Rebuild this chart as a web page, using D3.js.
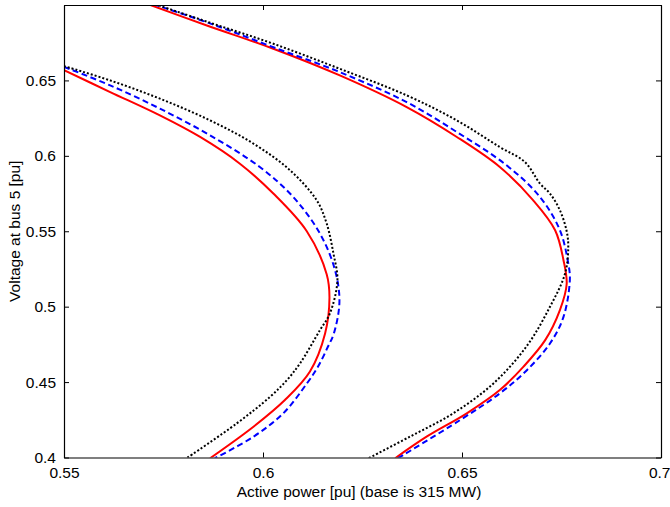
<!DOCTYPE html>
<html>
<head>
<meta charset="utf-8">
<script src="https://cdn.jsdelivr.net/npm/d3@7"></script>
<style>
  html, body { margin: 0; padding: 0; background: #fff; }
  svg { display: block; }
  text { font-family: Arial, "Liberation Sans", Helvetica, sans-serif; fill: #000; }
</style>
</head>
<body>
<svg id="chart" width="670" height="507"></svg>
<script>
// ---- data (active power P [pu], voltage V [pu]) ----
const leftRed = [
  [0.5500, 0.6568], [0.5616, 0.6423], [0.5741, 0.6268], [0.5842, 0.6125],
  [0.5942, 0.5948], [0.6026, 0.5750], [0.6110, 0.5500], [0.6160, 0.5215],
  [0.6167, 0.5060], [0.6156, 0.4822], [0.6118, 0.4570], [0.6055, 0.4381],
  [0.5976, 0.4204], [0.5867, 0.3995]
];
const leftBlue = [
  [0.5500, 0.6590], [0.5616, 0.6467], [0.5741, 0.6313], [0.5867, 0.6136],
  [0.5992, 0.5926], [0.6076, 0.5727], [0.6143, 0.5485], [0.6181, 0.5242],
  [0.6192, 0.5030], [0.6178, 0.4822], [0.6163, 0.4734], [0.6138, 0.4601],
  [0.6110, 0.4490], [0.6051, 0.4293], [0.5976, 0.4138], [0.5879, 0.3995]
];
const leftBlack = [
  [0.5500, 0.6595], [0.5616, 0.6500], [0.5741, 0.6379], [0.5867, 0.6235],
  [0.5976, 0.6081], [0.6068, 0.5904], [0.6135, 0.5705], [0.6160, 0.5551],
  [0.6177, 0.5352], [0.6187, 0.5175], [0.6168, 0.4955], [0.6143, 0.4844],
  [0.6093, 0.4624], [0.6060, 0.4513], [0.6018, 0.4403], [0.5934, 0.4226],
  [0.5808, 0.3995]
];
const rightRed = [
  [0.5712, 0.7005], [0.5859, 0.6864], [0.6026, 0.6710], [0.6193, 0.6533],
  [0.6361, 0.6323], [0.6487, 0.6125], [0.6595, 0.5926], [0.6679, 0.5705],
  [0.6734, 0.5507], [0.6755, 0.5308], [0.6763, 0.5150], [0.6746, 0.4977],
  [0.6709, 0.4778], [0.6654, 0.4601], [0.6595, 0.4447], [0.6512, 0.4293],
  [0.6411, 0.4138], [0.6332, 0.3995]
];
const rightBlue = [
  [0.5725, 0.7005], [0.5870, 0.6875], [0.6026, 0.6720], [0.6193, 0.6555],
  [0.6361, 0.6356], [0.6487, 0.6158], [0.6612, 0.5937], [0.6696, 0.5727],
  [0.6746, 0.5507], [0.6767, 0.5286], [0.6771, 0.5180], [0.6755, 0.4932],
  [0.6721, 0.4756], [0.6663, 0.4579], [0.6595, 0.4425], [0.6495, 0.4248],
  [0.6336, 0.3990]
];
const rightBlack = [
  [0.5729, 0.7005], [0.5870, 0.6880], [0.6026, 0.6743], [0.6193, 0.6577],
  [0.6361, 0.6401], [0.6487, 0.6235], [0.6595, 0.6058], [0.6658, 0.5959],
  [0.6696, 0.5816], [0.6721, 0.5750], [0.6746, 0.5639], [0.6763, 0.5500],
  [0.6767, 0.5396], [0.6759, 0.5220], [0.6721, 0.4999], [0.6663, 0.4740],
  [0.6579, 0.4491], [0.6478, 0.4293], [0.6369, 0.4138], [0.6265, 0.3995]
];

const xTicks = [0.55, 0.6, 0.65, 0.7];
const xTickLabels = ["0.55", "0.6", "0.65", "0.7"];
const yTicks = [0.4, 0.45, 0.5, 0.55, 0.6, 0.65];
const yTickLabels = ["0.4", "0.45", "0.5", "0.55", "0.6", "0.65"];
const xLabel = "Active power [pu] (base is 315 MW)";
const yLabel = "Voltage at bus 5 [pu]";

// ---- layout ----
const L = 64, R = 661, T = 5, B = 457.5;
const FS = 15.5;
const svg = d3.select("#chart");
const x = d3.scaleLinear().domain([0.55, 0.7]).range([L, R]);
const y = d3.scaleLinear().domain([0.4, 0.7]).range([B, T]);

svg.append("defs").append("clipPath").attr("id", "clip")
  .append("rect").attr("x", L).attr("y", T).attr("width", R - L).attr("height", B - T);

const line = d3.line().curve(d3.curveCatmullRom.alpha(0.5))
  .x(d => x(d[0])).y(d => y(d[1]));
const g = svg.append("g").attr("clip-path", "url(#clip)");

const series = [
  { data: leftRed, color: "#ff0000", dash: null },
  { data: rightRed, color: "#ff0000", dash: null },
  { data: leftBlue, color: "#0000ff", dash: "6,3.5" },
  { data: rightBlue, color: "#0000ff", dash: "6,3.5" },
  { data: leftBlack, color: "#000000", dash: "2,2" },
  { data: rightBlack, color: "#000000", dash: "2,2" }
];
series.forEach(s => {
  g.append("path").attr("d", line(s.data))
    .attr("fill", "none").attr("stroke", s.color)
    .attr("stroke-width", 2)
    .attr("stroke-dasharray", s.dash)
    .attr("stroke-linejoin", "round");
});

// axes (MATLAB box style, ticks inside, mirrored)
const tickLen = 5;
const bottomAxis = d3.axisBottom(x).tickValues(xTicks).tickFormat((d, i) => xTickLabels[i])
  .tickSizeInner(-tickLen).tickSizeOuter(0).tickPadding(9);
const topAxis = d3.axisTop(x).tickValues(xTicks).tickFormat("").tickSizeInner(-tickLen).tickSizeOuter(0);
const leftAxis = d3.axisLeft(y).tickValues(yTicks).tickFormat((d, i) => yTickLabels[i])
  .tickSizeInner(-tickLen).tickSizeOuter(0).tickPadding(8);
const rightAxis = d3.axisRight(y).tickValues(yTicks.concat([0.7])).tickFormat("").tickSizeInner(-tickLen).tickSizeOuter(0);

function style(sel) {
  sel.selectAll(".domain").attr("stroke", "#000").attr("stroke-width", 1.2);
  sel.selectAll(".tick line").attr("stroke", "#000").attr("stroke-width", 1);
  sel.selectAll("text").attr("font-size", FS).attr("font-family", "Arial, 'Liberation Sans', sans-serif").attr("fill", "#000");
}
const bx = svg.append("g").attr("transform", `translate(0,${B})`).call(bottomAxis).call(style);
// keep last x label inside the window (reference ends at the right edge)
bx.selectAll(".tick text").filter(d => d === 0.7).attr("text-anchor", "end").attr("dx", 9);
svg.append("g").attr("transform", `translate(0,${T})`).call(topAxis).call(style);
svg.append("g").attr("transform", `translate(${L},0)`).call(leftAxis).call(style);
svg.append("g").attr("transform", `translate(${R},0)`).call(rightAxis).call(style);

svg.append("text").attr("x", 359).attr("y", 497)
  .attr("text-anchor", "middle").attr("font-size", FS).text(xLabel);
svg.append("text").attr("transform", `translate(19.5,${(T + B) / 2}) rotate(-90)`)
  .attr("text-anchor", "middle").attr("font-size", FS).text(yLabel);
</script>
</body>
</html>
